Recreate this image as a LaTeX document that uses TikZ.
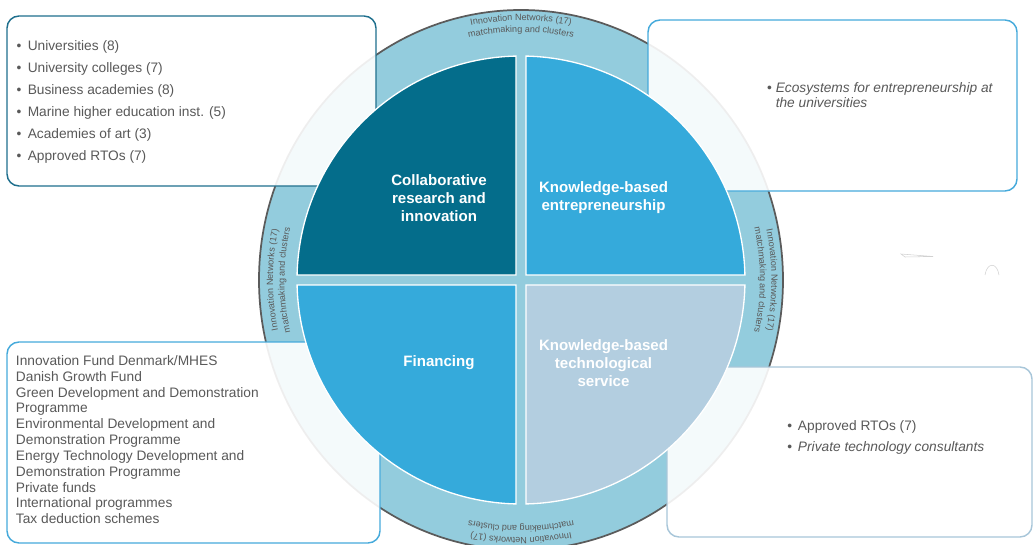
\documentclass[tikz,border=0pt]{standalone}
\usepackage{fontspec}
\setmainfont{Liberation Sans}
\usetikzlibrary{calc}
\usetikzlibrary{decorations.text}

\definecolor{ringblue}{HTML}{93CCDD}
\definecolor{ringedge}{HTML}{5B5B5B}
\definecolor{dteal}{HTML}{046D8B}
\definecolor{mblue}{HTML}{35AADB}
\definecolor{pblue}{HTML}{B3CEE0}
\definecolor{txtgray}{HTML}{595959}
\definecolor{tealline}{HTML}{1E6F8D}
\definecolor{blueline}{HTML}{45AADB}
\definecolor{paleline}{HTML}{A8C6D9}
\newcommand\ringfont[0]{\fontsize{6.8}{8}\selectfont\color{txtgray}}
\newcommand\gapang[0]{1.28}

\tikzset{
  item/.style={font=\fontsize{10.3}{12}\selectfont, text=txtgray, inner sep=0, anchor=base west},
  quadlabel/.style={font=\bfseries\fontsize{11.3}{13.5}\selectfont, text=white, align=center, inner sep=0},
  infobox/.style={rounded corners=9pt, line width=1.1pt, fill=white, fill opacity=0.9},
  quad/.style={draw=white, line width=1pt},
  artif/.style={draw=black!18, line width=0.4pt}
}

\begin{document}
\begin{tikzpicture}[x=0.75pt,y=0.75pt]
\useasboundingbox (0,0) rectangle (1033,544);

\coordinate (C) at (521,264);

% ring
\filldraw[fill=ringblue,draw=ringedge,line width=1.3pt] (C) ellipse[x radius=262,y radius=270];

\foreach \a/\ra/\rb in {0/259.5/248, 90/248/236.5, 180/257.5/246, 270/250.5/239}{
  \begin{scope}[shift={(C)},rotate=\a]
    \path[decorate,decoration={text along path,text align=center,
      text={|\ringfont|Innovation Networks (17)}}]
      (115:\ra) arc[start angle=115,end angle=65,radius=\ra];
    \path[decorate,decoration={text along path,text align=center,
      text={|\ringfont|matchmaking and clusters}}]
      (115:\rb) arc[start angle=115,end angle=65,radius=\rb];
  \end{scope}
}

% boxes
\draw[infobox,draw=tealline] (7,358) rectangle (376,528);
\draw[infobox,draw=blueline] (648,353) rectangle (1017,524);
\draw[infobox,draw=blueline] (7,1) rectangle (380,202);
\draw[infobox,draw=paleline] (667,7) rectangle (1032,177);

% top left list
\foreach \t [count=\i] in {Universities (8), University colleges (7), Business academies (8),
    Marine higher education inst. (5), Academies of art (3), Approved RTOs (7)}{
  \node[item] (tlb\i) at (16.3,{493.7-(\i-1)*22}) {•};
  \node[item] (tl\i) at (27.5,{493.7-(\i-1)*22}) {\t};
}

% top right
\node[item] (trb) at (766.8,451.4) {•};
\node[item] (tr1) at (775.5,451.4) {\itshape Ecosystems for entrepreneurship at};
\node[item] (tr2) at (775.5,436) {\itshape the universities};

% bottom left list
\foreach \t [count=\i] in {Innovation Fund Denmark/MHES, Danish Growth Fund,
    Green Development and Demonstration, Programme, Environmental Development and,
    Demonstration Programme, Energy Technology Development and, Demonstration Programme,
    Private funds, International programmes, Tax deduction schemes}{
  \node[item] (bl\i) at (15.7,{178.7-(\i-1)*15.85}) {\t};
}

% bottom right
\node[item] (brb1) at (787,113.7) {•};
\node[item] (br1) at (797.7,113.7) {Approved RTOs (7)};
\node[item] (brb2) at (787,93) {•};
\node[item] (br2) at (797.7,93) {\itshape Private technology consultants};

% quadrants
\foreach \r/\c in {0/dteal, -90/mblue, 90/mblue, 180/pblue}{
  \begin{scope}[shift={(C)},rotate=\r]
    \filldraw[quad,fill=\c] (-5,5) -- (90+\gapang:224)
      arc[start angle=90+\gapang,end angle=180-\gapang,radius=224] -- cycle;
  \end{scope}
}

\node[quadlabel] (collab) at ($(C)+(-82,82)$) {Collaborative\\research and\\innovation};
\node[quadlabel] (entre) at ($(C)+(82.5,82)$) {Knowledge-based\\entrepreneurship};
\node[quadlabel] (fin) at ($(C)+(-82,-83)$) {Financing};
\node[quadlabel] (techserv) at ($(C)+(82.5,-83)$) {Knowledge-based\\technological\\service};

% faint marks
\draw[artif] (901,290) -- (933,287.5) -- (905,287) -- cycle;
\draw[artif] (985,269) .. controls (987,282) and (997,282) .. (999,269);

\end{tikzpicture}
\end{document}
